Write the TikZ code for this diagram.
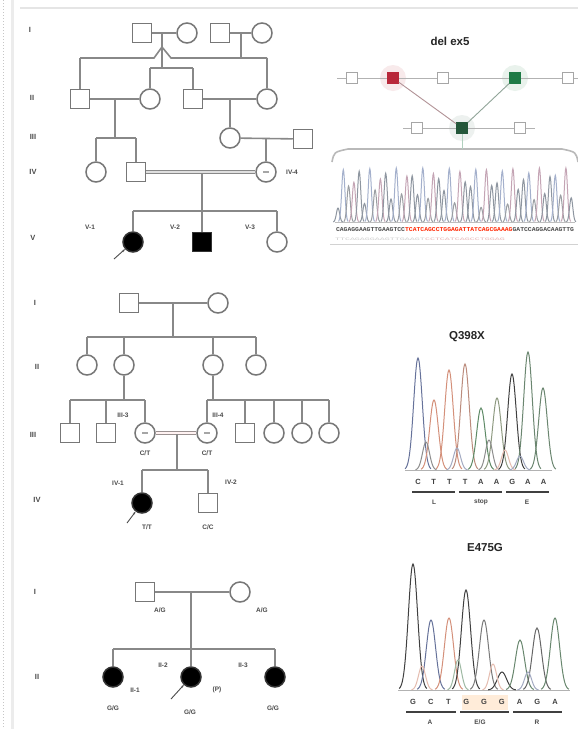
\documentclass[tikz,border=0pt]{standalone}
\usepackage{fontspec}
\setmainfont{Liberation Sans}
\setmonofont{Liberation Mono}
\usetikzlibrary{arrows.meta}
\definecolor{lgray}{HTML}{888888}
\definecolor{sgray}{HTML}{777777}
\definecolor{labgray}{HTML}{4A4A4A}
\definecolor{cA}{HTML}{5E8A66}
\definecolor{cC}{HTML}{66729A}
\definecolor{cG}{HTML}{404040}
\definecolor{cT}{HTML}{D4907A}
\definecolor{cc0}{HTML}{8E96A0}
\definecolor{cc1}{HTML}{C4A4B4}
\definecolor{cc2}{HTML}{9A9EA2}
\definecolor{cc3}{HTML}{A4B0CC}
\definecolor{exred}{HTML}{B8283A}
\definecolor{exgreen}{HTML}{1E7A45}
\definecolor{exdgreen}{HTML}{24573A}
\newcommand{\pk}[5]{\pgfmathsetmacro\pka{#2-3*#4}\pgfmathsetmacro\pkb{#2+3*#4}%
\draw[#5,line width=1pt] plot[domain=\pka:\pkb,samples=25,smooth] (\x,{#1-#3*exp(-((\x-#2)^2)/(2*#4*#4))});}
\tikzset{
 ln/.style={draw=lgray, line width=1.6pt},
 dbl/.style={draw=lgray, double=gray!25, double distance=2pt, line width=1.3pt},
 male/.style={rectangle, draw=sgray, line width=1.5pt, minimum size=19pt, inner sep=0pt, fill=white},
 female/.style={circle, draw=sgray, line width=1.5pt, minimum size=20pt, inner sep=0pt, fill=white},
 aff/.style={fill=black, draw=black!80},
 lab/.style={font=\fontsize{6.5}{7}\selectfont\bfseries, text=labgray, inner sep=0pt},
 gen/.style={font=\fontsize{7.5}{8}\selectfont\bfseries, text=labgray, inner sep=0pt},
 ttl/.style={font=\fontsize{11.5}{13}\selectfont\bfseries, inner sep=0pt, text=black!85},
 base/.style={font=\fontsize{7.5}{8}\selectfont\bfseries, inner sep=0pt, text=black!75},
 prob/.style={draw=black!70, line width=0.9pt, -{Stealth[length=3pt]}},
 exon/.style={rectangle, draw=gray!70, line width=0.7pt, minimum size=11pt, inner sep=0pt, fill=white},
 exl/.style={draw=gray!60, line width=0.9pt}
}
\begin{document}
\begin{tikzpicture}[x=1pt,y=-1pt]
\useasboundingbox (0,0) rectangle (578,729);
\fill[white] (0,0) rectangle (578,729);
\draw[gray!45, dotted, line width=1pt] (3,0) -- (3,729);
\draw[gray!15, line width=3pt] (12,0) -- (12,729);
\draw[gray!20, line width=2pt] (20,8) -- (578,8);

% ================= Panel 1 =================
\node[gen] (g1a) at (30,30) {I};
\node[gen] (g1b) at (32,98) {II};
\node[gen] (g1c) at (33,137) {III};
\node[gen] (g1d) at (33,172) {IV};
\node[gen] (g1e) at (33,238) {V};

\coordinate (k1) at (162,33);
\coordinate (k1a) at (162,47);
\coordinate (k1b) at (162,68);
\coordinate (k2) at (241,33);
\coordinate (k2a) at (241,58);
\coordinate (s1l) at (80,58);
\coordinate (s1m) at (154,58);
\coordinate (s1n) at (171,58);
\coordinate (s1r) at (267,58);
\coordinate (s2l) at (150,68);
\coordinate (s2r) at (193,68);
\draw[ln] (k1) -- (k1b);
\draw[ln] (k1a) -- (s1m) -- (s1l);
\draw[ln] (k1a) -- (s1n) -- (s1r);
\draw[ln] (k2) -- (k2a);
\draw[ln] (s2l) -- (s2r);

\node[male] (p1a) at (142,33) {};
\node[female] (p1b) at (187,33) {};
\node[male] (p1c) at (220,33) {};
\node[female] (p1d) at (262,33) {};
\draw[ln] (p1a) -- (p1b);
\draw[ln] (p1c) -- (p1d);

\node[male] (q1) at (80,99) {};
\node[female] (q2) at (150,99) {};
\node[male] (q3) at (193,99) {};
\node[female] (q4) at (267,99) {};
\draw[ln] (s1l) -- (q1);
\draw[ln] (s2l) -- (q2);
\draw[ln] (s2r) -- (q3);
\draw[ln] (s1r) -- (q4);
\draw[ln] (q1) -- (q2);
\draw[ln] (q3) -- (q4);

\coordinate (k3) at (115,99);
\coordinate (k3a) at (115,138);
\coordinate (s3l) at (96,138);
\coordinate (s3r) at (136,138);
\draw[ln] (k3) -- (k3a);
\draw[ln] (s3l) -- (s3r);
\node[female] (r1) at (96,172) {};
\node[male] (r2) at (136,172) {};
\draw[ln] (s3l) -- (r1);
\draw[ln] (s3r) -- (r2);

\coordinate (k4) at (230,99);
\node[female] (u1) at (230,138) {};
\node[male] (u2) at (303,139) {};
\draw[ln] (k4) -- (u1);
\draw[ln] (u1) -- (u2);
\coordinate (k5) at (266,139);
\node[female] (t1) at (266,172) {};
\draw[ln] (k5) -- (t1);
\draw[gray!70, line width=1.3pt] ([xshift=-3pt]t1.center) -- ([xshift=3pt]t1.center);
\node[lab] (lt1) at (292,172) {IV-4};

\draw[dbl] (r2) -- (t1);
\coordinate (k6) at (202,173);
\coordinate (k6a) at (202,211);
\coordinate (s6l) at (133,211);
\coordinate (s6r) at (277,211);
\draw[ln] (k6) -- (k6a);
\draw[ln] (s6l) -- (s6r);
\node[female, aff] (v1) at (133,242) {};
\node[male, aff] (v2) at (202,242) {};
\node[female] (v3) at (277,242) {};
\draw[ln] (s6l) -- (v1);
\draw[ln] (k6a) -- (v2);
\draw[ln] (s6r) -- (v3);
\node[lab] (lv1) at (90,227) {V-1};
\node[lab] (lv2) at (175,227) {V-2};
\node[lab] (lv3) at (250,227) {V-3};
\coordinate (pa1) at (114,259);
\draw[prob] (pa1) -- (v1);

% ---- del ex5 ----
\node[ttl] (t1ttl) at (450,41) {del ex5};
\fill[exred!10] (393,78) circle (13pt);
\fill[exgreen!10] (515,78) circle (13pt);
\fill[exdgreen!8] (462,128) circle (13pt);
\coordinate (e0l) at (337,78);
\coordinate (e0r) at (578,78);
\coordinate (e1l) at (403,128);
\coordinate (e1r) at (535,128);
\draw[exl] (e0l) -- (e0r);
\draw[exl] (e1l) -- (e1r);
\node[exon] (x1) at (352,78) {};
\node[exon, fill=exred, draw=exred] (x2) at (393,78) {};
\node[exon] (x3) at (443,78) {};
\node[exon, fill=exgreen, draw=exgreen] (x4) at (515,78) {};
\node[exon] (x5) at (568,78) {};
\node[exon] (y1) at (417,128) {};
\node[exon, fill=exdgreen, draw=exdgreen] (y2) at (462,128) {};
\node[exon] (y3) at (520,128) {};
\draw[exl, draw=exred!30!gray!70] (x2) -- (y2);
\draw[exl, draw=exgreen!30!gray!70] (x4) -- (y2);
\coordinate (br0) at (332,162);
\coordinate (br1) at (348,149);
\coordinate (br2) at (562,149);
\coordinate (br3) at (578,162);
\draw[gray!55, line width=1.6pt] (br0) .. controls (334,152) .. (br1) -- (br2) .. controls (576,152) .. (br3);
\draw[exgreen!35, line width=1pt] (y2) -- (462,149);
\draw[gray!50, line width=0.6pt] (335,222) -- (575,222);
\foreach \i in {0,...,44} {
  \pgfmathsetmacro\cx{338+5.3*\i}
  \pgfmathsetmacro\hh{14+40*abs(sin(\i*73.3))}
  \pgfmathtruncatemacro\kk{mod(\i*3+int(\i/5),4)}
  \pk{222}{\cx}{\hh}{1.6}{color=cc\kk}
}
\node[inner sep=0pt] (seq1) at (455,230) {\resizebox{238pt}{4pt}{\ttfamily\bfseries\textcolor{black!70}{CAGAGGAAGTTGAAGTCC}\textcolor{red!70!orange}{TCATCAGCCTGGAGATTATCAGCGAAAG}\textcolor{black!70}{GATCCAGGACAAGTTG}}};
\node[inner sep=0pt] (seq2) at (420,239) {\resizebox{170pt}{2.5pt}{\ttfamily\textcolor{gray!40}{TTCAGAGGAAGTTGAAGT}\textcolor{pink!80!gray}{CCTCATCAGCCTGGAG}}};
\draw[gray!35, line width=1pt] (330,244) -- (578,244);

% ================= Panel 2 =================
\node[gen] (g2a) at (35,303) {I};
\node[gen] (g2b) at (37,367) {II};
\node[gen] (g2c) at (33,435) {III};
\node[gen] (g2d) at (37,500) {IV};

\node[male] (a1) at (129,303) {};
\node[female] (a2) at (218,303) {};
\draw[ln] (a1) -- (a2);
\coordinate (m1) at (173,303);
\coordinate (m1a) at (173,337);
\coordinate (h1l) at (87,337);
\coordinate (h1r) at (256,337);
\draw[ln] (m1) -- (m1a);
\draw[ln] (h1l) -- (h1r);
\node[female] (b1) at (87,365) {};
\node[female] (b2) at (124,365) {};
\node[female] (b3) at (213,365) {};
\node[female] (b4) at (256,365) {};
\coordinate (h1b) at (124,337);
\coordinate (h1c) at (213,337);
\draw[ln] (h1l) -- (b1);
\draw[ln] (h1b) -- (b2);
\draw[ln] (h1c) -- (b3);
\draw[ln] (h1r) -- (b4);

\coordinate (h2m) at (124,400);
\coordinate (h2l) at (70,400);
\coordinate (h2r) at (145,400);
\coordinate (h2b) at (106,400);
\draw[ln] (b2) -- (h2m);
\draw[ln] (h2l) -- (h2r);
\node[male] (c1) at (70,433) {};
\node[male] (c2) at (106,433) {};
\node[female] (c3) at (145,433) {};
\draw[ln] (h2l) -- (c1);
\draw[ln] (h2b) -- (c2);
\draw[ln] (h2r) -- (c3);

\coordinate (h3m) at (213,400);
\coordinate (h3l) at (207,400);
\coordinate (h3r) at (329,400);
\coordinate (h3b) at (245,400);
\coordinate (h3c) at (274,400);
\coordinate (h3d) at (302,400);
\draw[ln] (b3) -- (h3m);
\draw[ln] (h3l) -- (h3r);
\node[female] (c4) at (207,433) {};
\node[male] (c5) at (245,433) {};
\node[female] (c6) at (274,433) {};
\node[female] (c7) at (302,433) {};
\node[female] (c8) at (329,433) {};
\draw[ln] (h3l) -- (c4);
\draw[ln] (h3b) -- (c5);
\draw[ln] (h3c) -- (c6);
\draw[ln] (h3d) -- (c7);
\draw[ln] (h3r) -- (c8);
\draw[gray!70, line width=1.3pt] ([xshift=-3pt]c3.center) -- ([xshift=3pt]c3.center);
\draw[gray!70, line width=1.3pt] ([xshift=-3pt]c4.center) -- ([xshift=3pt]c4.center);
\draw[dbl, draw=lgray!85!pink, double=pink!20] (c3) -- (c4);
\node[lab] (lc3) at (123,415) {III-3};
\node[lab] (lc4) at (218,415) {III-4};
\node[lab] (gc3) at (145,453) {C/T};
\node[lab] (gc4) at (207,453) {C/T};

\coordinate (m4) at (177,434);
\coordinate (m4a) at (177,470);
\coordinate (h4l) at (142,470);
\coordinate (h4r) at (208,470);
\draw[ln] (m4) -- (m4a);
\draw[ln] (h4l) -- (h4r);
\node[female, aff] (d1) at (142,503) {};
\node[male] (d2) at (208,503) {};
\draw[ln] (h4l) -- (d1);
\draw[ln] (h4r) -- (d2);
\node[lab] (ld1) at (118,483) {IV-1};
\node[lab] (ld2) at (231,482) {IV-2};
\node[lab] (gd1) at (147,527) {T/T};
\node[lab] (gd2) at (208,527) {C/C};
\coordinate (pa2) at (127,523);
\draw[prob] (pa2) -- (d1);

% ---- Q398X ----
\node[ttl] (t2ttl) at (467,337) {Q398X};
\draw[gray!60, line width=0.8pt] (405,470) -- (552,470);
\pk{470}{418}{112}{4.3}{cC}
\pk{470}{434}{70}{4.3}{cT}
\pk{470}{449}{100}{4.3}{cT}
\pk{470}{465}{106}{4.3}{cT!70!gray}
\pk{470}{481}{62}{4.3}{cA}
\pk{470}{497}{72}{4.3}{cA!70!pink}
\pk{470}{512}{96}{4.3}{cG}
\pk{470}{528}{118}{4.3}{cA!60!gray}
\pk{470}{543}{82}{4.3}{cA!60!gray}
\pk{470}{426}{28}{3.5}{cG!60}
\pk{470}{457}{22}{3.5}{cC!60}
\pk{470}{489}{30}{3.5}{cG!60}
\pk{470}{505}{20}{3.5}{cT!60}
\pk{470}{520}{14}{3.5}{cC!60}
\foreach \b [count=\i from 0] in {C,T,T,T,A,A,G,A,A} {
  \node[base] (qb\i) at ({418+15.7*\i},482) {\b};
}
\draw[black!75, line width=1.6pt] (412,492) -- (455,492);
\draw[black!75, line width=1.6pt] (459,492) -- (502,492);
\draw[black!75, line width=1.6pt] (506,492) -- (549,492);
\node[lab] (qc1) at (434,502) {L};
\node[lab] (qc2) at (481,502) {stop};
\node[lab] (qc3) at (527,502) {E};

% ================= Panel 3 =================
\node[gen] (g3a) at (35,592) {I};
\node[gen] (g3b) at (37,677) {II};
\node[male] (e1) at (145,592) {};
\node[female] (e2) at (240,592) {};
\draw[ln] (e1) -- (e2);
\node[lab] (le1) at (160,610) {A/G};
\node[lab] (le2) at (262,610) {A/G};
\coordinate (m5) at (191,592);
\coordinate (m5a) at (191,649);
\coordinate (h5l) at (113,649);
\coordinate (h5r) at (275,649);
\draw[ln] (m5) -- (m5a);
\draw[ln] (h5l) -- (h5r);
\node[female, aff] (f1) at (113,677) {};
\node[female, aff] (f2) at (191,677) {};
\node[female, aff] (f3) at (275,677) {};
\draw[ln] (h5l) -- (f1);
\draw[ln] (m5a) -- (f2);
\draw[ln] (h5r) -- (f3);
\node[lab] (lf2) at (163,665) {II-2};
\node[lab] (lf3) at (243,665) {II-3};
\node[lab] (lf1) at (135,690) {II-1};
\node[lab] (lf4) at (217,690) {(P)};
\node[lab] (gf1) at (113,708) {G/G};
\node[lab] (gf2) at (190,712) {G/G};
\node[lab] (gf3) at (273,708) {G/G};
\coordinate (pa3) at (171,699);
\draw[prob] (pa3) -- (f2);

% ---- E475G ----
\node[ttl] (t3ttl) at (485,548) {E475G};
\fill[orange!15] (462,695) rectangle (508,710);
\draw[gray!60, line width=0.8pt] (398,690) -- (570,690);
\pk{690}{413}{126}{4.6}{cG}
\pk{690}{431}{70}{4.6}{cC}
\pk{690}{449}{72}{4.6}{cT}
\pk{690}{466}{100}{4.6}{cG}
\pk{690}{484}{70}{4.6}{cG!70}
\pk{690}{502}{18}{4.6}{cG}
\pk{690}{520}{50}{4.6}{cA!70!gray}
\pk{690}{537}{62}{4.6}{cG!80}
\pk{690}{555}{72}{4.6}{cA!70!gray}
\pk{690}{422}{24}{3.5}{cT!60}
\pk{690}{458}{30}{3.5}{cA!60}
\pk{690}{493}{26}{3.5}{cT!60}
\pk{690}{528}{18}{3.5}{cC!60}
\foreach \b [count=\i from 0] in {G,C,T,G,G,G,A,G,A} {
  \node[base] (eb\i) at ({413+17.75*\i},702) {\b};
}
\draw[black!75, line width=1.6pt] (406,712) -- (456,712);
\draw[black!75, line width=1.6pt] (460,712) -- (509,712);
\draw[black!75, line width=1.6pt] (513,712) -- (562,712);
\node[lab] (ec1) at (430,722) {A};
\node[lab] (ec2) at (480,722) {E/G};
\node[lab] (ec3) at (537,722) {R};
\end{tikzpicture}
\end{document}
